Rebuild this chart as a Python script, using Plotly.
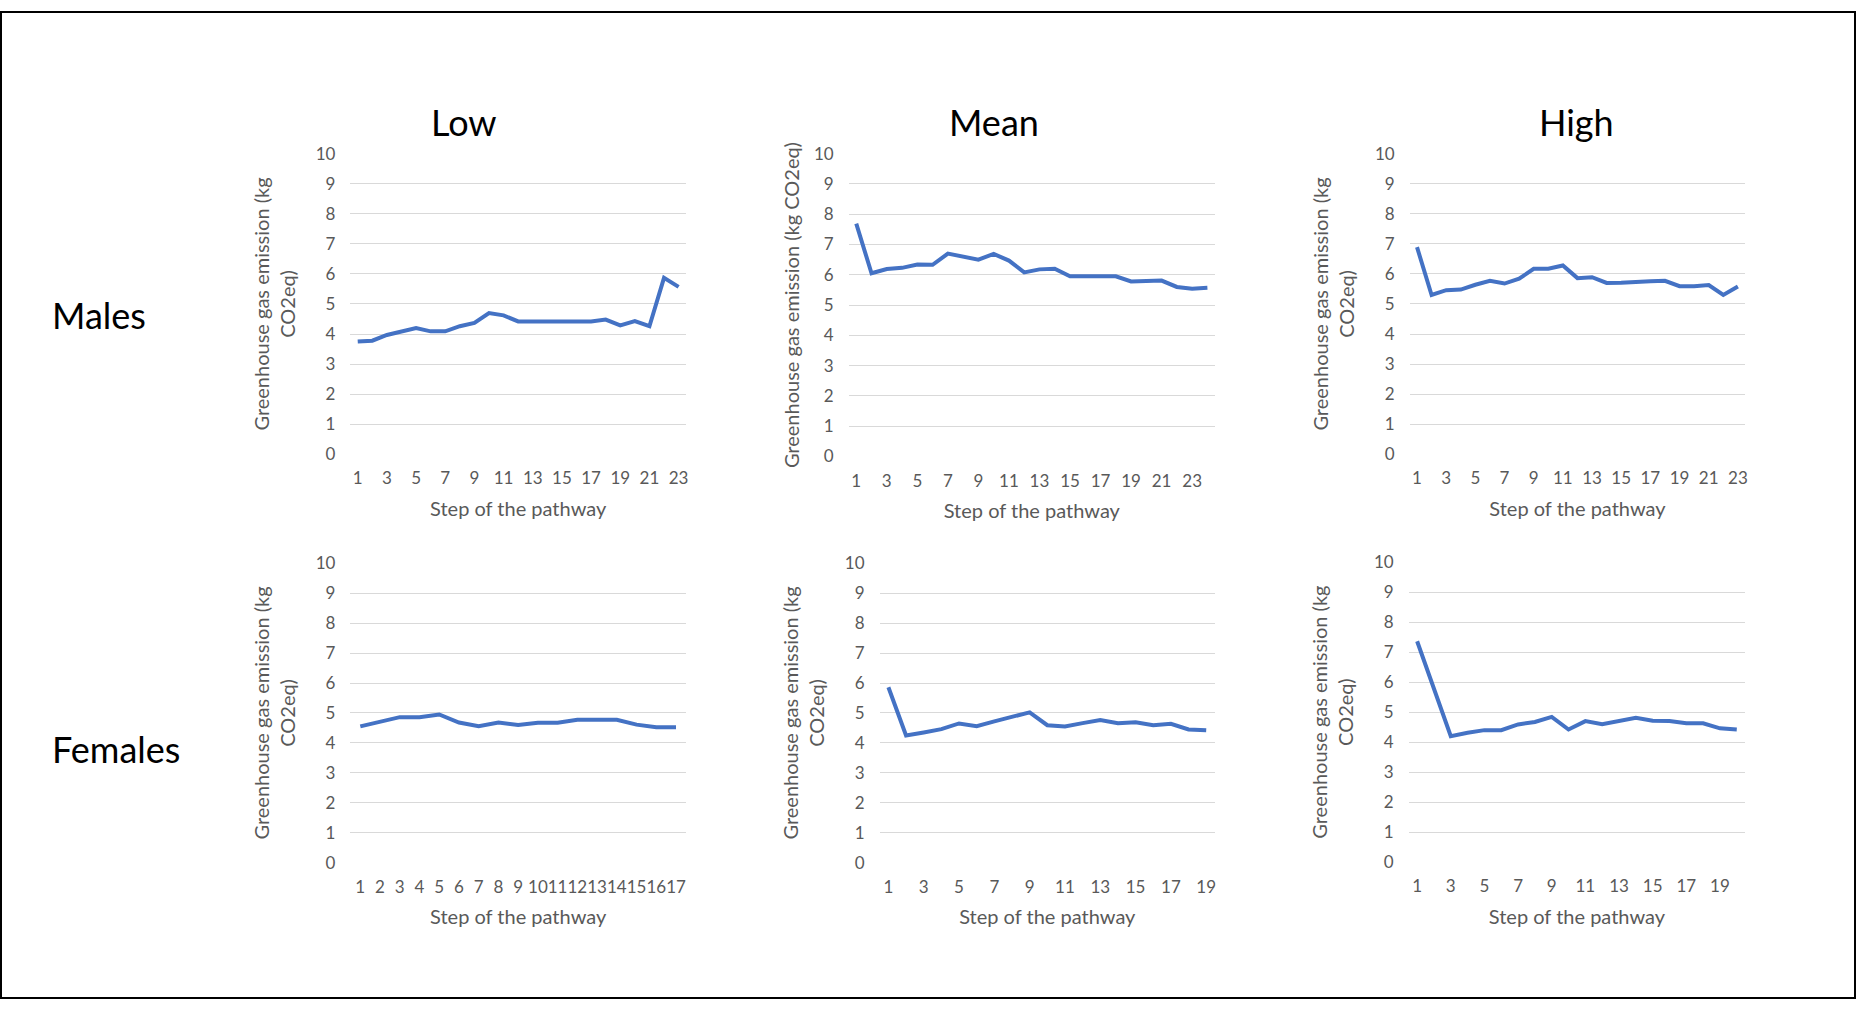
import plotly.graph_objects as go

# ---------------- data ----------------
col_titles = ["Low", "Mean", "High"]
row_titles = ["Males", "Females"]

males_low = [3.75, 3.78, 3.97, 4.10, 4.20, 4.09, 4.09, 4.26, 4.37, 4.70, 4.62, 4.42,
             4.42, 4.42, 4.42, 4.42, 4.42, 4.48, 4.29, 4.43, 4.26, 5.87, 5.57]
males_mean = [7.69, 6.05, 6.19, 6.23, 6.34, 6.33, 6.70, 6.61, 6.50, 6.69, 6.47, 6.08,
              6.18, 6.20, 5.95, 5.95, 5.95, 5.95, 5.78, 5.78, 5.81, 5.60, 5.54, 5.57]
males_high = [6.89, 5.30, 5.46, 5.48, 5.64, 5.77, 5.68, 5.84, 6.17, 6.17, 6.28, 5.86,
              5.89, 5.70, 5.71, 5.75, 5.76, 5.77, 5.59, 5.59, 5.63, 5.30, 5.58]
females_low = [4.55, 4.71, 4.86, 4.86, 4.95, 4.68, 4.56, 4.68, 4.60, 4.67, 4.67, 4.77,
               4.77, 4.77, 4.61, 4.52, 4.52]
females_mean = [5.86, 4.25, 4.35, 4.46, 4.65, 4.56, 4.72, 4.86, 5.02, 4.59, 4.55, 4.66,
                4.76, 4.66, 4.69, 4.59, 4.64, 4.45, 4.42]
females_high = [7.36, 5.80, 4.20, 4.31, 4.40, 4.40, 4.59, 4.67, 4.84, 4.42, 4.70, 4.60,
                4.71, 4.81, 4.71, 4.70, 4.63, 4.63, 4.46, 4.42]

y_ticks = list(range(0, 11))
x_title = "Step of the pathway"
y_title_2line = "Greenhouse gas emission (kg<br>CO2eq)"
y_title_1line = "Greenhouse gas emission (kg CO2eq)"

# ---------------- layout geometry (pixels) ----------------
W, H = 1860, 1010
FONT = "Lato, Liberation Sans, sans-serif"
GRAY = "#595959"
LINE = "#4472C4"
GRID = "#D9D9D9"

panels = [
    # series, plot-area box (left, right, top, bottom), odd-only ticks?, y title
    (males_low,    (351, 687, 145.7, 452.7), True,  y_title_2line),
    (males_mean,   (850, 1217, 145.7, 455.0), True,  y_title_1line),
    (males_high,   (1412, 1748, 145.7, 452.7), True,  y_title_2line),
    (females_low,  (351, 687, 564.0, 869.7), False, y_title_2line),
    (females_mean, (881, 1217, 564.0, 869.7), True,  y_title_2line),
    (females_high, (1411, 1748, 562.7, 869.3), True,  y_title_2line),
]

fig = go.Figure()
layout = dict(
    width=W, height=H,
    margin=dict(l=0, r=0, t=0, b=0),
    paper_bgcolor="white", plot_bgcolor="white",
    showlegend=False,
    font=dict(family=FONT, color=GRAY),
)

for i, (vals, (l, r, t, b), odd_only, ytitle) in enumerate(panels, start=1):
    n = len(vals)
    xs = list(range(1, n + 1))
    xa = "x" if i == 1 else f"x{i}"
    ya = "y" if i == 1 else f"y{i}"
    fig.add_trace(go.Scatter(x=xs, y=vals, mode="lines", xaxis=xa, yaxis=ya,
                             line=dict(color=LINE, width=4), hoverinfo="skip"))
    tickvals = [v for v in xs if (v % 2 == 1 or not odd_only)]
    stand = 8 if ytitle == y_title_1line else 14
    layout["xaxis" if i == 1 else f"xaxis{i}"] = dict(
        domain=[l / W, r / W], anchor=ya,
        range=[0.5, n + 0.5], tickmode="array", tickvals=tickvals,
        ticktext=[str(v) for v in tickvals], tickangle=0,
        showgrid=False, zeroline=False, showline=False, ticks="",
        ticklabelstandoff=12,
        tickfont=dict(family=FONT, size=17, color=GRAY),
        title=dict(text=x_title, standoff=14,
                   font=dict(family=FONT, size=20, color=GRAY)),
        fixedrange=True,
    )
    layout["yaxis" if i == 1 else f"yaxis{i}"] = dict(
        domain=[1 - b / H, 1 - t / H], anchor=xa,
        range=[0, 10], tickmode="array", tickvals=y_ticks,
        showgrid=True, gridcolor=GRID, gridwidth=1.3,
        zeroline=False, showline=False, ticks="",
        ticklabelstandoff=14,
        tickfont=dict(family=FONT, size=17, color=GRAY),
        title=dict(text=ytitle, standoff=stand,
                   font=dict(family=FONT, size=20, color=GRAY)),
        fixedrange=True,
    )

annotations = []
for txt, cx in zip(col_titles, [465, 996, 1579]):
    annotations.append(dict(text=txt, x=cx / W, y=1 - 113 / H, xref="paper", yref="paper",
                            showarrow=False, xanchor="center", yanchor="middle",
                            font=dict(family=FONT, size=36, color="black")))
for txt, cy in zip(row_titles, [310, 754]):
    annotations.append(dict(text=txt, x=50 / W, y=1 - cy / H, xref="paper", yref="paper",
                            showarrow=False, xanchor="left", yanchor="middle",
                            font=dict(family=FONT, size=36, color="black")))
layout["annotations"] = annotations
layout["shapes"] = [dict(type="rect", xref="paper", yref="paper",
                         x0=1 / W, x1=1 - 2 / W, y0=2 / H, y1=1 - 1 / H,
                         line=dict(color="black", width=2), fillcolor="rgba(0,0,0,0)")]

fig.update_layout(**layout)

post_js = (
    "document.documentElement.style.margin='0';"
    "document.documentElement.style.padding='0';"
    "document.documentElement.style.overflow='hidden';"
    "document.body.style.margin='0';"
    "document.body.style.padding='0';"
    "document.body.style.overflow='hidden';"
    "var gd=document.getElementById('{plot_id}');"
    "gd.style.position='fixed';gd.style.top='0px';gd.style.left='0px';"
)
fig.write_html("out.html", config={"displayModeBar": False}, post_script=post_js)
